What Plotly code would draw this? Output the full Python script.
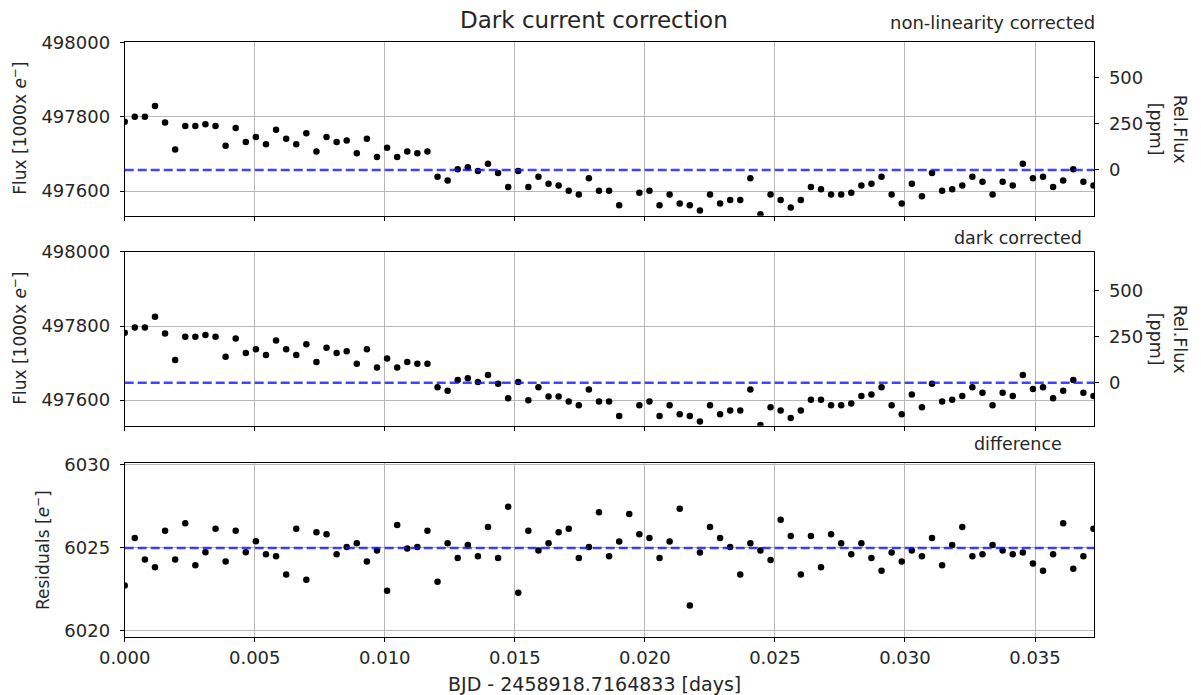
import numpy as np
import plotly.graph_objects as go

# ---- data -------------------------------------------------------------
CADENCE_DAYS = 0.000388          # exposure cadence
N_POINTS = 97
time_days = np.arange(N_POINTS) * CADENCE_DAYS

# flux after non-linearity correction [1000 x e-]
flux_nonlin = [
    497787, 497800, 497800, 497829, 497785, 497712, 497775, 497775, 497780, 497775,
    497722, 497770, 497732, 497746, 497726, 497765, 497741, 497726, 497756, 497707,
    497746, 497732, 497736, 497702, 497741, 497692, 497717, 497692, 497707, 497702,
    497707, 497639, 497629, 497659, 497664, 497654, 497674, 497649, 497611, 497654,
    497611, 497639, 497620, 497615, 497601, 497591, 497635, 497601, 497601, 497562,
    497515, 497596, 497601, 497562, 497591, 497567, 497562, 497548, 497591, 497567,
    497576, 497576, 497635, 497538, 497591, 497576, 497556, 497576, 497611, 497605,
    497591, 497591, 497596, 497615, 497620, 497639, 497591, 497567, 497620, 497586,
    497649, 497601, 497605, 497615, 497639, 497625, 497591, 497625, 497615, 497674,
    497635, 497639, 497611, 497629, 497659, 497625, 497615,
]

# flux after dark current correction [1000 x e-]
flux_dark = [
    497782, 497796, 497796, 497825, 497780, 497708, 497771, 497771, 497776, 497771,
    497717, 497766, 497727, 497737, 497722, 497761, 497737, 497722, 497751, 497703,
    497741, 497727, 497732, 497698, 497737, 497688, 497712, 497688, 497703, 497698,
    497698, 497635, 497625, 497654, 497659, 497649, 497668, 497644, 497605, 497649,
    497600, 497635, 497610, 497610, 497596, 497586, 497629, 497596, 497596, 497557,
    497510, 497586, 497596, 497557, 497586, 497562, 497557, 497542, 497586, 497562,
    497572, 497572, 497629, 497533, 497581, 497572, 497552, 497572, 497601, 497601,
    497586, 497586, 497591, 497611, 497615, 497635, 497586, 497562, 497615, 497581,
    497644, 497596, 497601, 497611, 497635, 497620, 497586, 497620, 497611, 497668,
    497630, 497635, 497605, 497625, 497654, 497620, 497611,
]

# difference between the two corrections [e-]
residuals = [
    6022.74, 6025.60, 6024.30, 6023.84, 6026.04, 6024.30, 6026.48, 6023.96, 6024.74, 6026.16,
    6024.18, 6026.04, 6024.74, 6025.40, 6024.62, 6024.50, 6023.40, 6026.16, 6023.08, 6025.94,
    6025.82, 6024.62, 6025.06, 6025.28, 6024.18, 6024.84, 6022.42, 6026.38, 6024.96, 6025.06,
    6026.04, 6022.96, 6025.28, 6024.40, 6025.18, 6024.50, 6026.26, 6024.40, 6027.48, 6022.30,
    6026.04, 6024.84, 6025.28, 6025.94, 6026.16, 6024.40, 6025.06, 6027.14, 6024.50, 6025.38,
    6027.04, 6025.82, 6025.60, 6024.40, 6025.38, 6027.36, 6021.54, 6024.72, 6026.26, 6025.60,
    6025.06, 6023.40, 6025.28, 6024.84, 6024.28, 6026.70, 6025.72, 6023.40, 6025.72, 6023.84,
    6025.82, 6025.28, 6024.62, 6025.28, 6024.40, 6023.62, 6024.72, 6024.18, 6024.84, 6024.50,
    6025.60, 6023.96, 6025.18, 6026.26, 6024.50, 6024.62, 6025.18, 6024.84, 6024.62, 6024.72,
    6024.06, 6023.62, 6024.62, 6026.48, 6023.74, 6024.50, 6026.16,
]

# reference levels (dashed lines)
ref_nonlin = 497657
ref_dark = 497647
ref_resid = 6025.0

flux_ticks = [497600, 497800, 498000]
ppm_ticks = [0, 250, 500]
resid_ticks = [6020, 6025, 6030]
time_ticks = [0.000, 0.005, 0.010, 0.015, 0.020, 0.025, 0.030, 0.035]

# ---- layout helpers ----------------------------------------------------
W, H = 1201, 695
FONT = "DejaVu Sans"
INK = "#262626"
TICK_FONT = dict(family=FONT, size=18, color=INK)
GRID = "#b8b8b8"

X_RANGE = [0.0, 0.03728]
x_dom = [124.7 / W, 1094.3 / W]


def ydom(top_px, bottom_px):
    return [1 - bottom_px / H, 1 - top_px / H]


y1_dom = ydom(41.7, 215.7)
y2_dom = ydom(251.7, 425.7)
y3_dom = ydom(462.7, 637.3)

y1_range = [497534, 498002]
y2_range = [497531, 498000.5]
y3_range = [6019.62, 6030.13]


def ppm_range(r, ref):
    return [(r[0] / ref - 1) * 1e6, (r[1] / ref - 1) * 1e6]


fig = go.Figure()

marker = dict(color="black", size=6.5)
fig.add_trace(go.Scatter(x=time_days, y=flux_nonlin, mode="markers", marker=marker,
                         xaxis="x", yaxis="y", showlegend=False))
fig.add_trace(go.Scatter(x=time_days, y=flux_dark, mode="markers", marker=marker,
                         xaxis="x2", yaxis="y2", showlegend=False))
fig.add_trace(go.Scatter(x=time_days, y=residuals, mode="markers", marker=marker,
                         xaxis="x3", yaxis="y3", showlegend=False))
# empty traces so the right-hand ppm axes are drawn
fig.add_trace(go.Scatter(x=[], y=[], xaxis="x", yaxis="y4", showlegend=False))
fig.add_trace(go.Scatter(x=[], y=[], xaxis="x2", yaxis="y5", showlegend=False))

# dashed reference levels
dash_line = dict(color="rgba(20,20,255,0.8)", width=2.5, dash="9px,4px")
for xr, yr, level in [("x", "y", ref_nonlin), ("x2", "y2", ref_dark), ("x3", "y3", ref_resid)]:
    fig.add_shape(type="line", xref=f"{xr} domain", yref=yr, x0=0, x1=1, y0=level, y1=level,
                  line=dash_line, layer="above")

common_x = dict(range=X_RANGE, domain=x_dom, tickvals=time_ticks, tickformat=".3f",
                showgrid=True, gridcolor=GRID, gridwidth=1, zeroline=False,
                showline=True, linecolor="black", linewidth=1, mirror=True,
                ticks="outside", ticklen=4, tickcolor="black", tickfont=TICK_FONT,
                automargin=False)
common_y = dict(showgrid=True, gridcolor=GRID, gridwidth=1, zeroline=False,
                showline=True, linecolor="black", linewidth=1,
                ticks="outside", ticklen=4, tickcolor="black", tickfont=TICK_FONT,
                tickformat="d", ticklabelstandoff=6, automargin=False)
right_y = dict(side="right", showgrid=False, zeroline=False, showline=True,
               linecolor="black", linewidth=1, ticks="outside", ticklen=4,
               tickcolor="black", tickfont=TICK_FONT, tickvals=ppm_ticks,
               tickformat="d", ticklabelstandoff=6, automargin=False)

fig.update_layout(
    width=W, height=H,
    margin=dict(l=0, r=0, t=0, b=0),
    paper_bgcolor="white", plot_bgcolor="white",
    xaxis=dict(common_x, anchor="y", showticklabels=False),
    xaxis2=dict(common_x, anchor="y2", showticklabels=False, matches="x"),
    xaxis3=dict(common_x, anchor="y3", showticklabels=True, matches="x"),
    yaxis=dict(common_y, domain=y1_dom, range=y1_range, tickvals=flux_ticks, anchor="x"),
    yaxis2=dict(common_y, domain=y2_dom, range=y2_range, tickvals=flux_ticks, anchor="x2"),
    yaxis3=dict(common_y, domain=y3_dom, range=y3_range, tickvals=resid_ticks, anchor="x3",
                mirror=True),
    yaxis4=dict(right_y, overlaying="y", anchor="x", range=ppm_range(y1_range, ref_nonlin)),
    yaxis5=dict(right_y, overlaying="y2", anchor="x2", range=ppm_range(y2_range, ref_dark)),
)


def px(xp, yp):
    return xp / W, 1 - yp / H


annotations = []


def text(label, xp, yp, size, xanchor="center", angle=0):
    x, y = px(xp, yp)
    annotations.append(dict(text=label, x=x, y=y, xref="paper", yref="paper",
                            xanchor=xanchor, yanchor="middle", showarrow=False,
                            textangle=angle, font=dict(family=FONT, size=size, color=INK)))


text("Dark current correction", 594, 20, 23)
text("non-linearity corrected", 1097, 23, 18, xanchor="right")
text("dark corrected", 1084, 238, 17.5, xanchor="right")
text("difference", 1064, 444, 17.5, xanchor="right")

text("Flux [1000x <i>e</i><sup>−</sup>]", 19, 128.7, 17, angle=-90)
text("Flux [1000x <i>e</i><sup>−</sup>]", 19, 338.7, 17, angle=-90)
text("Residuals [<i>e</i><sup>−</sup>]", 42, 550, 17, angle=-90)

text("Rel.Flux", 1180, 128.7, 17.5, angle=90)
text("[ppm]", 1156, 128.7, 17.5, angle=90)
text("Rel.Flux", 1180, 338.7, 17.5, angle=90)
text("[ppm]", 1156, 338.7, 17.5, angle=90)

text("BJD - 2458918.7164833 [days]", 594, 684, 19)

fig.update_layout(annotations=annotations)

fig.write_html("out.html")
